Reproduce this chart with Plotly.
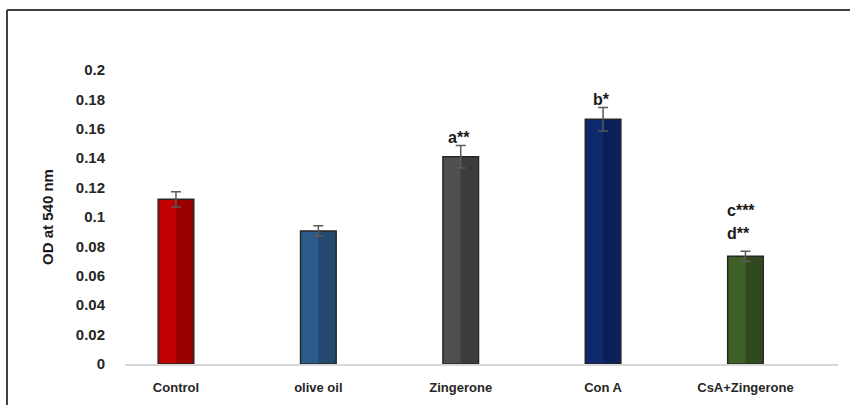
import plotly.graph_objects as go

categories = ["Control", "olive oil", "Zingerone", "Con A", "CsA+Zingerone"]
values = [0.112, 0.0905, 0.141, 0.1665, 0.0733]
errors = [0.0052, 0.0035, 0.0077, 0.0080, 0.0034]
sig_labels = [[], [], ["a**"], ["b*"], ["d**", "c***"]]
y_ticks = [0, 0.02, 0.04, 0.06, 0.08, 0.1, 0.12, 0.14, 0.16, 0.18, 0.2]
y_ticktext = ["0", "0.02", "0.04", "0.06", "0.08", "0.1", "0.12", "0.14", "0.16", "0.18", "0.2"]

fill_colors = ["#C00000", "#2E5C8A", "#4F4F4F", "#0E2A6E", "#3F6128"]
dark_colors = ["#9A0000", "#24496E", "#3C3C3C", "#0A2058", "#30491E"]

W, H = 850, 405
L, R, T, B = 125, 12, 70, 41
pw, ph = W - L - R, H - T - B

xs = list(range(len(categories)))
fig = go.Figure()
fig.add_trace(go.Bar(x=xs, y=values, width=0.25, marker=dict(color=fill_colors, line=dict(width=0)),
                     showlegend=False, hoverinfo="skip"))
fig.add_trace(go.Bar(x=xs, y=values, width=0.12, offset=0, marker=dict(color=dark_colors, line=dict(width=0)),
                     showlegend=False, hoverinfo="skip"))
fig.add_trace(go.Bar(x=xs, y=values, width=0.25, marker=dict(color="rgba(0,0,0,0)", line=dict(color="#262626", width=1.5)),
                     error_y=dict(type="data", array=errors, visible=True, color="#5A5A5A", thickness=1.5, width=5),
                     showlegend=False))

annotations = []
for i, labs in enumerate(sig_labels):
    for k, lab in enumerate(labs):
        annotations.append(dict(
            x=i, y=values[i] + errors[i], xref="x", yref="y",
            text=f"<b>{lab}</b>", showarrow=False,
            xanchor="left" if len(labs) > 1 else "center",
            xshift=-20 if len(labs) > 1 else -2,
            yanchor="middle", yshift=8 + (10 if len(labs) > 1 else 0) + k * 23,
            font=dict(size=16, color="#1A1A1A", family="Liberation Sans, Arial")))

def px_x(p):
    return (p - L) / pw

def px_y(p):
    return (H - B - p) / ph

shapes = [
    dict(type="line", xref="paper", yref="paper", x0=px_x(7), x1=px_x(7), y0=px_y(10), y1=px_y(H + 5),
         line=dict(color="#404040", width=2)),
    dict(type="line", xref="paper", yref="paper", x0=px_x(7), x1=px_x(W + 5), y0=px_y(10), y1=px_y(10),
         line=dict(color="#404040", width=2)),
]

fig.update_layout(
    width=W, height=H,
    margin=dict(l=L, r=R, t=T, b=B, pad=0, autoexpand=False),
    paper_bgcolor="white", plot_bgcolor="white",
    barmode="overlay",
    annotations=annotations,
    shapes=shapes,
    font=dict(family="Liberation Sans, Arial", color="#262626"),
    xaxis=dict(
        range=[-0.358, 4.65], tickvals=xs, ticktext=[f"<b>{c}</b>" for c in categories],
        showgrid=False, zeroline=False, showline=True, linecolor="#D9D9D9", linewidth=1.5,
        ticks="", tickfont=dict(size=13, color="#262626"), ticklabelstandoff=11, automargin=False,
    ),
    yaxis=dict(
        range=[0, 0.2], tickvals=y_ticks, ticktext=[f"<b>{t}</b>" for t in y_ticktext],
        showgrid=False, zeroline=False, showline=False, ticks="", automargin=False,
        tickfont=dict(size=15, color="#262626"), ticklabelstandoff=19,
        title=dict(text="<b>OD at 540 nm</b>", font=dict(size=15, color="#1A1A1A"), standoff=18),
    ),
)

fig.write_html("out.html", config={"displayModeBar": False},
               post_script="document.body.style.margin='0';document.body.style.overflow='hidden';")
